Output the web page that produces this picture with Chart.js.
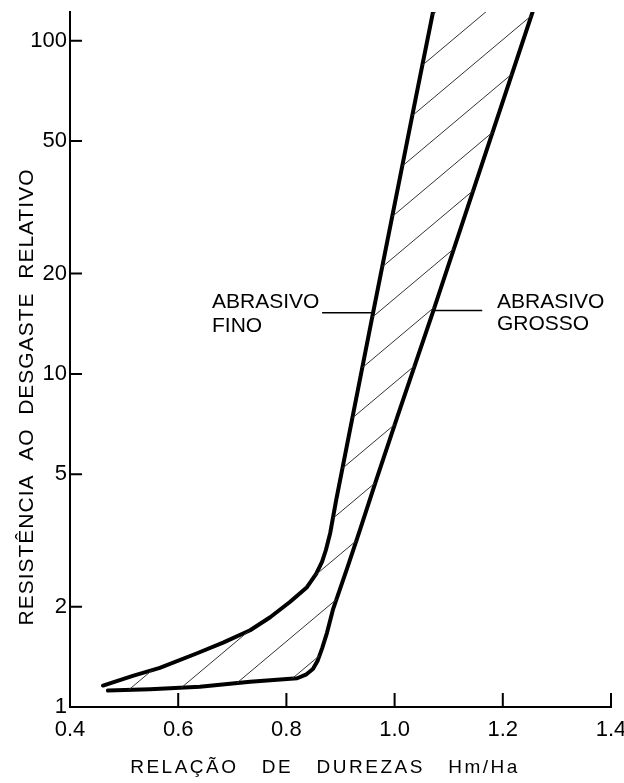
<!DOCTYPE html>
<html>
<head>
<meta charset="utf-8">
<style>
  html, body { margin: 0; padding: 0; background: #fff; }
  canvas { display: block; }
</style>
</head>
<body>
<canvas id="chart" width="624" height="783"></canvas>
<script src="https://cdn.jsdelivr.net/npm/chart.js@4.4.1/dist/chart.umd.min.js"></script>
<script>
"use strict";

// x = Hm/Ha, y = resistencia ao desgaste relativo (log scale)
let finoX = [0.461, 0.516, 0.566, 0.635, 0.683, 0.733, 0.770, 0.807, 0.838, 0.855, 0.866, 0.873, 0.881, 0.892, 0.960, 1.041, 1.071];
let finoY = [1.16, 1.24, 1.31, 1.45, 1.56, 1.70, 1.86, 2.07, 2.29, 2.51, 2.73, 2.96, 3.33, 4.18, 15.2, 69.8, 122];

let grossoX = [0.470, 0.548, 0.640, 0.733, 0.820, 0.836, 0.849, 0.858, 0.866, 0.875, 0.886, 0.913, 0.936, 0.968, 1.005, 1.070, 1.152, 1.255];
let grossoY = [1.12, 1.13, 1.15, 1.19, 1.22, 1.25, 1.30, 1.38, 1.50, 1.67, 1.96, 2.63, 3.40, 4.91, 7.43, 15.2, 38.3, 122];

let xTicks = [0.4, 0.6, 0.8, 1.0, 1.2, 1.4];
let xTickLabels = ["0.4", "0.6", "0.8", "1.0", "1.2", "1.4"];
let yTicks = [1, 2, 5, 10, 20, 50, 100];

// short leader lines from the labels to the curves
let finoLeaderX = [0.866, 0.958];
let finoLeaderY = [15.25, 15.25];
let grossoLeaderX = [1.070, 1.162];
let grossoLeaderY = [15.5, 15.5];

const FONT = '"Liberation Sans", Arial, sans-serif';

function toPoints(xs, ys) {
    return xs.map((x, i) => ({ x: x, y: ys[i] }));
}

// diagonal hatching for the band between the two curves
function makeHatch() {
    let w = 50, h = 42;
    let c = document.createElement("canvas");
    c.width = w;
    c.height = h;
    let g = c.getContext("2d");
    g.strokeStyle = "#333";
    g.lineWidth = 1;
    g.beginPath();
    g.moveTo(-w, h); g.lineTo(w, -h);
    g.moveTo(0, h); g.lineTo(w, 0);
    g.moveTo(0, 2 * h); g.lineTo(2 * w, 0);
    g.stroke();
    return g.createPattern(c, "repeat");
}

// tick marks on the inside, titles and the two notes
const extras = {
    id: "extras",
    afterDraw(chart) {
        const c = chart.ctx;
        const xs = chart.scales.x;
        const ys = chart.scales.y;
        c.save();
        c.strokeStyle = "#000";
        c.lineWidth = 2;
        c.beginPath();
        xTicks.forEach(v => {
            if (v === xTicks[0]) return;
            let p = xs.getPixelForValue(v);
            c.moveTo(p, ys.bottom);
            c.lineTo(p, ys.bottom - 14);
        });
        yTicks.forEach(v => {
            if (v === yTicks[0]) return;
            let p = ys.getPixelForValue(v);
            c.moveTo(xs.left, p);
            c.lineTo(xs.left + 12, p);
        });
        c.stroke();

        c.fillStyle = "#000";
        c.textAlign = "left";
        c.textBaseline = "alphabetic";
        c.font = "21px " + FONT;
        c.fillText("ABRASIVO", 212, 308);
        c.fillText("FINO", 212, 332);
        c.fillText("ABRASIVO", 497, 308);
        c.fillText("GROSSO", 497, 330);

        c.textAlign = "center";
        c.font = "19px " + FONT;
        c.letterSpacing = "2.5px";
        c.fillText("RELAÇÃO   DE   DUREZAS   Hm/Ha", 325, 773);

        c.translate(33, 397);
        c.rotate(-Math.PI / 2);
        c.font = "21px " + FONT;
        c.letterSpacing = "1px";
        c.fillText("RESISTÊNCIA  AO  DESGASTE  RELATIVO", 0, 0);
        c.restore();
    }
};

const ctx = document.getElementById("chart");
const hatch = makeHatch();

new Chart(ctx, {
    type: "line",
    data: {
        datasets: [{
            // band between the curves, closed polygon
            data: toPoints(finoX.concat(grossoX.slice().reverse()), finoY.concat(grossoY.slice().reverse())),
            fill: "shape",
            backgroundColor: hatch,
            borderColor: "rgba(0,0,0,0)",
            borderWidth: 0,
            pointRadius: 0,
            tension: 0
        }, {
            label: "Abrasivo fino",
            data: toPoints(finoX, finoY),
            borderColor: "#000",
            borderWidth: 4,
            pointRadius: 0,
            fill: false,
            tension: 0,
            borderJoinStyle: "round",
            borderCapStyle: "round"
        }, {
            label: "Abrasivo grosso",
            data: toPoints(grossoX, grossoY),
            borderColor: "#000",
            borderWidth: 4,
            pointRadius: 0,
            fill: false,
            tension: 0,
            borderJoinStyle: "round",
            borderCapStyle: "round"
        }, {
            data: toPoints(finoLeaderX, finoLeaderY),
            borderColor: "#000",
            borderWidth: 1.5,
            pointRadius: 0,
            fill: false
        }, {
            data: toPoints(grossoLeaderX, grossoLeaderY),
            borderColor: "#000",
            borderWidth: 1.5,
            pointRadius: 0,
            fill: false
        }]
    },
    options: {
        responsive: false,
        devicePixelRatio: 1,
        animation: false,
        layout: { padding: { top: 12, right: 13, left: 0, bottom: 0 } },
        plugins: {
            legend: { display: false },
            tooltip: { enabled: false }
        },
        scales: {
            x: {
                type: "linear",
                min: 0.4,
                max: 1.4,
                afterBuildTicks: s => { s.ticks = xTicks.map(v => ({ value: v })); },
                afterFit: s => { s.height = 76; s.paddingLeft = 0; s.paddingRight = 0; },
                ticks: {
                    callback: (v, i) => xTickLabels[i],
                    font: { family: FONT, size: 22 },
                    color: "#000",
                    padding: 10,
                    maxRotation: 0,
                    autoSkip: false
                },
                grid: { display: true, drawOnChartArea: false, drawTicks: false },
                border: { display: true, color: "#000", width: 2 }
            },
            y: {
                type: "logarithmic",
                min: 1,
                max: 122,
                afterBuildTicks: s => { s.ticks = yTicks.map(v => ({ value: v })); },
                afterFit: s => { s.width = 70; s.paddingTop = 0; s.paddingBottom = 0; },
                ticks: {
                    callback: v => String(v),
                    font: { family: FONT, size: 22 },
                    color: "#000",
                    padding: 3,
                    autoSkip: false
                },
                grid: { display: true, drawOnChartArea: false, drawTicks: false },
                border: { display: true, color: "#000", width: 2 }
            }
        }
    },
    plugins: [extras]
});
</script>
</body>
</html>
